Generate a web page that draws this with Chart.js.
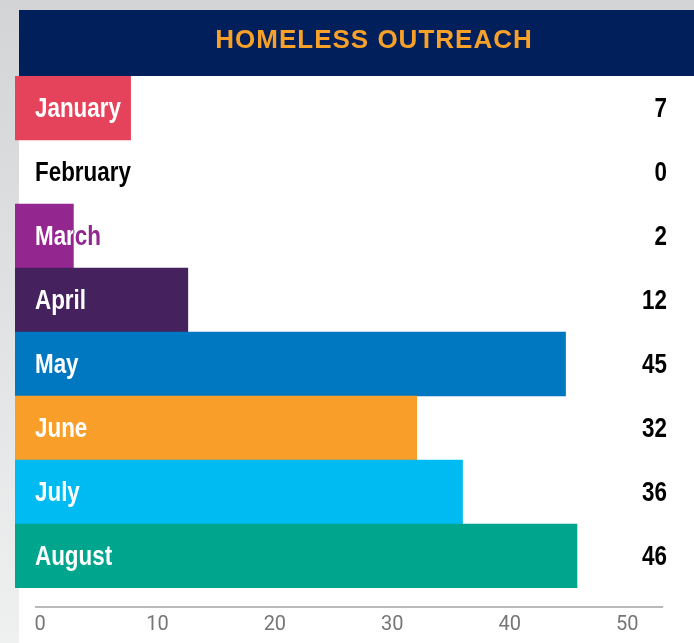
<!DOCTYPE html>
<html><head><meta charset="utf-8">
<script src="https://cdn.jsdelivr.net/npm/chart.js@4.4.1/dist/chart.umd.min.js"></script>
<style>html,body{margin:0;padding:0;background:#fff;} #wrap{width:694px;height:643px;position:relative;}</style>
</head><body><div id="wrap"><canvas id="c"></canvas></div>
<script>
const chartTitle = 'HOMELESS OUTREACH';
const months = ['January','February','March','April','May','June','July','August'];
const values = [7, 0, 2, 12, 45, 32, 36, 46];
const barColors = ['#e5425b','#ffffff','#94278f','#45215d','#0078c1','#f99e29','#00bbf1','#00a58d'];
const labelOutsideColors = ['#e5425b','#000000','#94278f','#45215d','#0078c1','#f99e29','#00bbf1','#00a58d'];
const tickValues = [0, 10, 20, 30, 40, 50];

const LABEL_FONT = 'bold 28px "Liberation Sans", Arial, sans-serif';
const NARROW_SCALE = 0.8;
const BAR_MIN = -3.1;

function narrowText(ctx, text, x, y, align) {
  ctx.save();
  ctx.translate(x, y);
  ctx.scale(NARROW_SCALE, 1);
  ctx.textAlign = align;
  ctx.fillText(text, 0, 0);
  ctx.restore();
}

const decor = {
  id: 'decor',
  beforeDraw(chart) {
    const {ctx, width, height} = chart;
    ctx.save();
    ctx.fillStyle = '#ffffff'; ctx.fillRect(0, 0, width, height);
    const g = ctx.createLinearGradient(0, 0, 0, height);
    g.addColorStop(0, '#d3d4d6'); g.addColorStop(1, '#eff0f0');
    ctx.fillStyle = g; ctx.fillRect(0, 0, 19, height);
    ctx.fillStyle = '#d3d4d6'; ctx.fillRect(0, 0, width, 10);
    ctx.fillStyle = '#001f5b'; ctx.fillRect(19, 10, width - 19, 66);
    ctx.fillStyle = '#f7a128';
    ctx.font = 'bold 26px "Liberation Sans", Arial, sans-serif';
    ctx.letterSpacing = '1px';
    ctx.textAlign = 'center'; ctx.textBaseline = 'middle';
    ctx.fillText(chartTitle, 374, 41);
    ctx.restore();
    // axis line
    const xs = chart.scales.x;
    const y = chart.chartArea.bottom + 19;
    ctx.save();
    ctx.strokeStyle = '#a3a3a3'; ctx.lineWidth = 1.5;
    ctx.beginPath();
    ctx.moveTo(xs.getPixelForValue(tickValues[0]) - 5, y);
    ctx.lineTo(xs.getPixelForValue(tickValues[tickValues.length - 1]) + 36, y);
    ctx.stroke();
    ctx.restore();
  },
  afterDatasetsDraw(chart) {
    const {ctx} = chart;
    const meta = chart.getDatasetMeta(0);
    ctx.save();
    ctx.font = LABEL_FONT;
    ctx.textBaseline = 'middle';
    meta.data.forEach((bar, i) => {
      const p = bar.getProps(['x', 'y', 'base', 'height'], true);
      const ty = p.y + 1;
      ctx.fillStyle = labelOutsideColors[i];
      narrowText(ctx, months[i], 35, ty, 'left');
      if (values[i] > 0) {
        ctx.save();
        ctx.beginPath();
        ctx.rect(Math.min(p.base, p.x), p.y - p.height / 2, Math.abs(p.x - p.base), p.height);
        ctx.clip();
        ctx.fillStyle = '#ffffff';
        narrowText(ctx, months[i], 35, ty, 'left');
        ctx.restore();
      }
      ctx.fillStyle = '#000000';
      narrowText(ctx, String(values[i]), 667, ty, 'right');
    });
    ctx.restore();
  }
};

new Chart(document.getElementById('c'), {
  type: 'bar',
  data: {
    labels: months,
    datasets: [{
      data: values,
      xAxisID: 'xb',
      base: BAR_MIN,
      backgroundColor: (c) => (values[c.dataIndex] === 0 ? 'rgba(0,0,0,0)' : barColors[c.dataIndex]),
      borderWidth: 0,
      barPercentage: 1,
      categoryPercentage: 1
    }]
  },
  options: {
    indexAxis: 'y',
    responsive: true,
    maintainAspectRatio: false,
    animation: false,
    layout: { padding: { top: 76, left: 15, right: 14, bottom: 1 } },
    plugins: { legend: { display: false }, tooltip: { enabled: false }, title: { display: false } },
    scales: {
      y: { type: 'category', display: false },
      xb: { type: 'linear', display: false, min: BAR_MIN, max: 55 },
      x: {
        type: 'linear', position: 'bottom', min: -2.13, max: 54.5,
        afterBuildTicks: (axis) => { axis.ticks = tickValues.map(v => ({ value: v })); },
        grid: { display: true, drawOnChartArea: false, drawTicks: true, tickLength: 20, color: 'rgba(0,0,0,0)' },
        border: { display: false },
        ticks: { padding: 5, color: '#767676', font: { family: 'Roboto', size: 20 }, maxRotation: 0, autoSkip: false }
      }
    }
  },
  plugins: [decor]
});
</script>
</body></html>
